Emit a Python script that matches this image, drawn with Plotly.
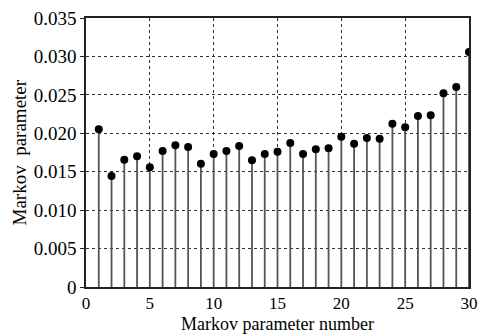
import plotly.graph_objects as go

idx = list(range(1, 31))
markov = [0.02052, 0.01444, 0.01657, 0.01700, 0.01557, 0.01770, 0.01843, 0.01822,
          0.01605, 0.01731, 0.01770, 0.01835, 0.01648, 0.01731, 0.01761, 0.01874,
          0.01731, 0.01791, 0.01804, 0.01956, 0.01865, 0.01939, 0.01930, 0.02125,
          0.02078, 0.02225, 0.02234, 0.02520, 0.02602, 0.03058]
xticks = [0, 5, 10, 15, 20, 25, 30]
yticks = [0, 0.005, 0.010, 0.015, 0.020, 0.025, 0.030, 0.035]
ytick_text = ["0", "0.005", "0.010", "0.015", "0.020", "0.025", "0.030", "0.035"]

FAM = "Liberation Serif"
fig = go.Figure()
fig.add_trace(go.Scatter(
    x=idx, y=markov, mode="markers",
    marker=dict(color="black", size=8, symbol="circle"),
    error_y=dict(type="data", symmetric=False, array=[0] * len(markov),
                 arrayminus=markov, color="#555555", thickness=1.8, width=0),
    showlegend=False,
))

PLOT_H = 334 - 18 - 47
fig.update_layout(
    width=485, height=334,
    margin=dict(l=86, r=16, t=18, b=47),
    paper_bgcolor="white", plot_bgcolor="white",
    font=dict(family=FAM, size=18, color="black"),
    xaxis=dict(range=[0, 30], tickvals=xticks, ticks="", ticklen=0,
               showgrid=True, gridcolor="#333333", griddash="dot", gridwidth=1,
               showline=True, linecolor="#222222", linewidth=1.5, mirror=True,
               zeroline=False, tickfont=dict(family=FAM, size=17, color="black"),
               automargin=False),
    yaxis=dict(range=[0, 0.035], tickvals=yticks, ticktext=ytick_text, ticks="outside",
               ticklen=4, tickcolor="#222222", showgrid=True,
               gridcolor="#333333", griddash="dot", gridwidth=1,
               showline=True, linecolor="#222222", linewidth=1.5, mirror=True,
               zeroline=False, tickfont=dict(family=FAM, size=19, color="black"),
               automargin=False),
    annotations=[
        dict(text="Markov parameter number", xref="paper", yref="paper",
             x=0.5, y=-(324 - 287) / PLOT_H, xanchor="center", yanchor="middle",
             showarrow=False, font=dict(family=FAM, size=18, color="black")),
        dict(text="Markov  parameter", xref="paper", yref="paper",
             x=-(86 - 19) / (485 - 86 - 16), y=0.5, xanchor="center", yanchor="middle",
             textangle=-90, showarrow=False, font=dict(family=FAM, size=19, color="black")),
    ],
)
fig.write_html("out.html")
